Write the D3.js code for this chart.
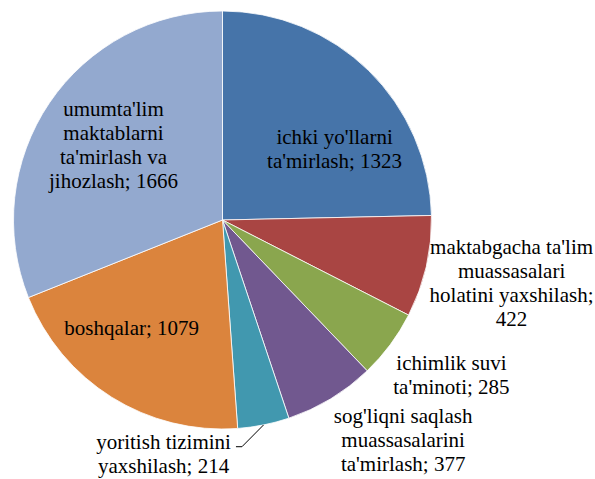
<!DOCTYPE html>
<html>
<head>
<meta charset="utf-8">
<script src="https://d3js.org/d3.v7.min.js"></script>
<style>
  body { margin: 0; }
  svg text, svg tspan { font-family: "Liberation Serif", "Times New Roman", serif !important; }
</style>
</head>
<body>
<div id="chart"></div>
<script>
// Data
const categories = [
    "ichki yo'llarni ta'mirlash",
    "maktabgacha ta'lim muassasalari holatini yaxshilash",
    "ichimlik suvi ta'minoti",
    "sog'liqni saqlash muassasalarini ta'mirlash",
    "yoritish tizimini yaxshilash",
    "boshqalar",
    "umumta'lim maktablarni ta'mirlash va jihozlash"
];
const values = [1323, 422, 285, 377, 214, 1079, 1666];

// how each label is broken into lines
const labelLines = [
    ["ichki yo'llarni", "ta'mirlash; 1323"],
    ["maktabgacha ta'lim", "muassasalari", "holatini yaxshilash;", "422"],
    ["ichimlik suvi", "ta'minoti; 285"],
    ["sog'liqni saqlash", "muassasalarini", "ta'mirlash; 377"],
    ["yoritish tizimini", "yaxshilash; 214"],
    ["boshqalar; 1079"],
    ["umumta'lim", "maktablarni", "ta'mirlash va", "jihozlash; 1666"]
];

const colors = ["#4674A9", "#A94543", "#8AA64E", "#71588F", "#4198AF", "#DB843D", "#93A9CF"];

const width = 595;
const height = 479;
const cx = 222.5, cy = 220;
const radius = 209;
const lineHeight = 24;

// label placement: inside or outside, and a small nudge from the centroid
const labelInside = [true, false, false, false, false, true, true];
const labelNudge = [[20, 24], [11, 0], [0, -15], [33, -23], [-115, -45], [-21, -3], [0, 0]];

const svg = d3.select("#chart")
    .append("svg")
    .attr("width", width)
    .attr("height", height)
    .append("g")
    .attr("transform", "translate(" + cx + "," + cy + ")");

const data = categories.map((c, i) => ({ label: c, value: values[i], lines: labelLines[i] }));

const pie = d3.pie()
    .sort(null)
    .value(d => d.value);

const arc = d3.arc()
    .innerRadius(0)
    .outerRadius(radius);

const innerLabelArc = d3.arc()
    .innerRadius(radius * 0.63)
    .outerRadius(radius * 0.63);

const outerLabelArc = d3.arc()
    .innerRadius(radius * 1.365)
    .outerRadius(radius * 1.365);

const arcs = pie(data);

svg.selectAll("path")
    .data(arcs)
    .enter().append("path")
    .attr("d", arc)
    .attr("fill", d => colors[d.index])
    .attr("stroke", "#fff")
    .attr("stroke-width", 0.8);

// label positions
function labelPos(d) {
    const c = labelInside[d.index] ? innerLabelArc.centroid(d) : outerLabelArc.centroid(d);
    return [c[0] + labelNudge[d.index][0], c[1] + labelNudge[d.index][1]];
}

const labels = svg.selectAll("text")
    .data(arcs)
    .enter().append("text")
    .attr("text-anchor", "middle")
    .attr("font-family", "serif")
    .attr("font-size", 21)
    .attr("fill", "#000")
    .attr("transform", d => "translate(" + labelPos(d) + ")");

labels.selectAll("tspan")
    .data(d => d.data.lines.map((l, j) => ({ text: l, j: j, n: d.data.lines.length })))
    .enter().append("tspan")
    .attr("x", 0)
    .attr("y", t => (t.j - (t.n - 1) / 2) * lineHeight)
    .attr("dy", "0.3em")
    .text(t => t.text);

// leader line for the small "yoritish" slice
const leader = arcs[4];
const edge = d3.arc().innerRadius(radius).outerRadius(radius).centroid(leader);
const lp = labelPos(leader);
const firstSpan = labels.filter(d => d.index === 4).select("tspan").node();
const halfW = firstSpan.getComputedTextLength() / 2;
const leaderY = lp[1] - lineHeight / 2 + 4;
svg.append("polyline")
    .attr("points", [edge, [lp[0] + halfW + 11, leaderY], [lp[0] + halfW + 5, leaderY]].map(p => p.join(",")).join(" "))
    .attr("fill", "none")
    .attr("stroke", "#000")
    .attr("stroke-width", 1);
</script>
</body>
</html>
